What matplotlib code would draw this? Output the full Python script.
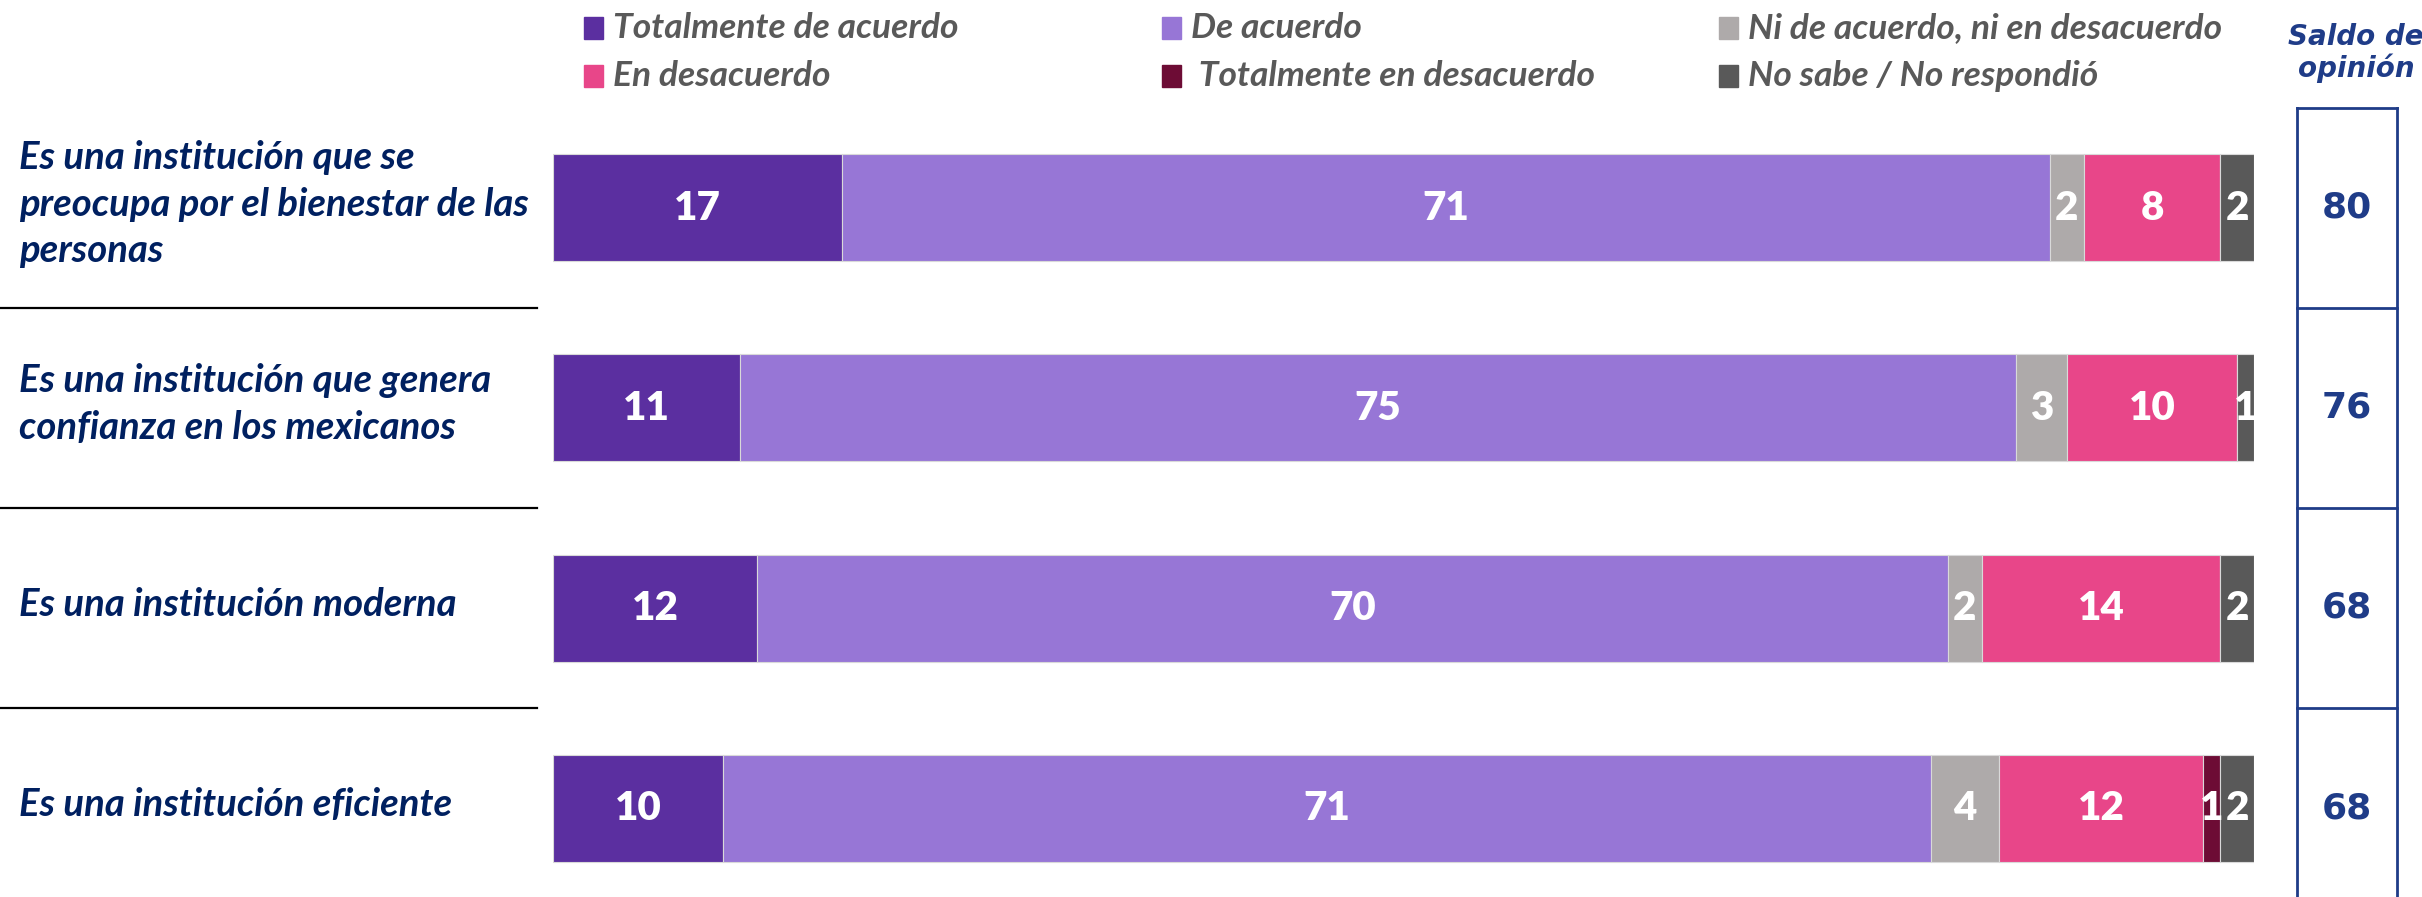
import matplotlib
matplotlib.use("Agg")
import matplotlib.pyplot as plt
from matplotlib.patches import Rectangle
from matplotlib.transforms import blended_transform_factory

# ---------------------------------------------------
# DATA
# ---------------------------------------------------

statements = [
    "Es una institución que se\npreocupa por el bienestar de las\npersonas",
    "Es una institución que genera\nconfianza en los mexicanos",
    "Es una institución moderna",
    "Es una institución eficiente",
]

categories = [
    "Totalmente de acuerdo",
    "De acuerdo",
    "Ni de acuerdo, ni en desacuerdo",
    "En desacuerdo",
    " Totalmente en desacuerdo",
    "No sabe / No respondió",
]

totalmente_acuerdo = [17, 11, 12, 10]
de_acuerdo = [71, 75, 70, 71]
ni_ni = [2, 3, 2, 4]
en_desacuerdo = [8, 10, 14, 12]
totalmente_desacuerdo = [0, 0, 0, 1]
no_sabe = [2, 1, 2, 2]

saldo = [80, 76, 68, 68]

colors = ["#5b2fa0", "#9776d6", "#aeaaaa", "#e84689", "#6d0c35", "#595959"]

series = [totalmente_acuerdo, de_acuerdo, ni_ni, en_desacuerdo,
          totalmente_desacuerdo, no_sabe]

# ---------------------------------------------------
# FIGURE
# ---------------------------------------------------

W, H = 2422, 897
fig = plt.figure(figsize=(W / 100, H / 100), dpi=100)
fig.patch.set_facecolor("white")

ax = fig.add_axes([553 / W, (H - 908) / H, (2254 - 553) / W, 800 / H])
ax.set_xlim(0, 100)
ax.set_ylim(3.5, -0.5)
ax.axis("off")

blend = blended_transform_factory(fig.transFigure, ax.transData)

lato = ["Lato", "DejaVu Sans"]
navy = "#002060"
blue = "#1f3c88"

# stacked bars
rows = list(range(len(statements)))
left = [0] * len(rows)
for vals, col in zip(series, colors):
    ax.barh(rows, vals, left=left, height=0.535, color=col,
            edgecolor="#d9d9d9", linewidth=0.8, zorder=2)
    for r, v in enumerate(vals):
        if v > 0:
            ax.text(left[r] + v / 2, r, str(v), ha="center", va="center",
                    color="white", fontsize=29, fontweight="heavy",
                    family=lato, zorder=3)
    left = [a + b for a, b in zip(left, vals)]

# statement labels and separators
for r, label in enumerate(statements):
    ax.text(19 / W, r - 0.02, label, transform=blend, ha="left",
            va="center", color=navy, fontsize=27.5, fontweight="bold",
            style="italic", family=lato, linespacing=1.38, clip_on=False)
    ax.plot([0, 537 / W], [r + 0.5, r + 0.5], transform=blend,
            color="black", lw=1.6, clip_on=False)

# saldo de opinión column
bx0, bx1 = 2297 / W, 2397 / W
ax.plot([bx0, bx0], [-0.5, 3.7], transform=blend, color=blue, lw=2,
        clip_on=False)
ax.plot([bx1, bx1], [-0.5, 3.7], transform=blend, color=blue, lw=2,
        clip_on=False)
for yy in [-0.5, 0.5, 1.5, 2.5]:
    ax.plot([bx0, bx1], [yy, yy], transform=blend, color=blue, lw=2,
            clip_on=False)
for r, s in enumerate(saldo):
    ax.text((bx0 + bx1) / 2, r, str(s), transform=blend, ha="center",
            va="center", color=blue, fontsize=26, fontweight="bold",
            family="DejaVu Sans", clip_on=False)

fig.text(2356 / W, 1 - 53 / H, "Saldo de\nopinión", ha="center",
         va="center", color=blue, fontsize=20, fontweight="bold",
         style="italic", family="DejaVu Sans", linespacing=1.1)

# legend
leg_x = [584, 1162, 1719]
leg_y = [28, 76]
for i, (name, col) in enumerate(zip(categories, colors)):
    cx = leg_x[i % 3]
    cy = leg_y[i // 3]
    fig.add_artist(Rectangle((cx / W, 1 - (cy + 11) / H), 19 / W, 22 / H,
                             transform=fig.transFigure, color=col))
    fig.text((cx + 29) / W, 1 - cy / H, name, ha="left", va="center",
             color="#595959", fontsize=25.5, fontweight="bold",
             style="italic", family=lato)

fig.savefig("out.png", dpi=100, facecolor="white")
plt.close(fig)
